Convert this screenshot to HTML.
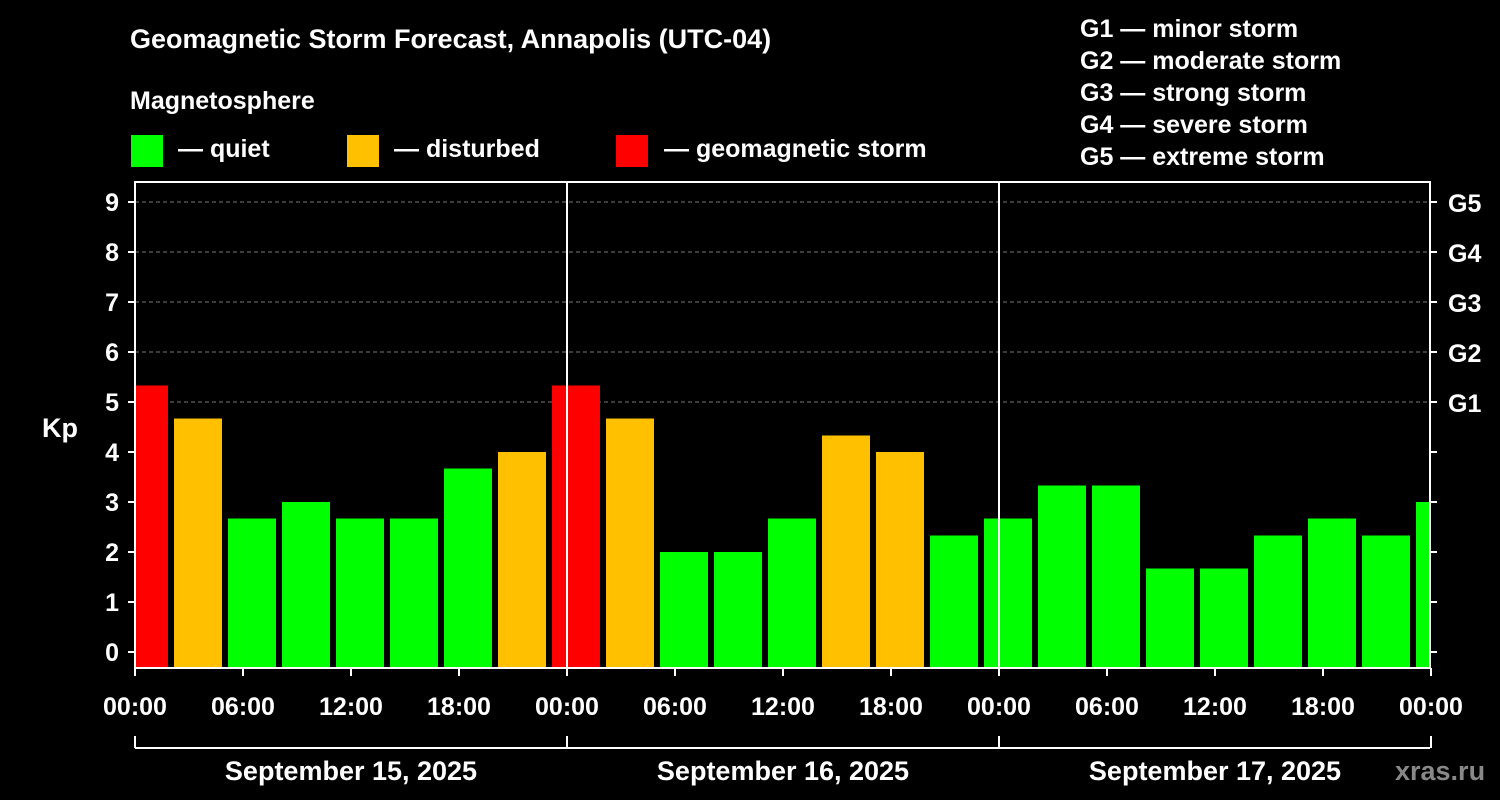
<!DOCTYPE html>
<html><head><meta charset="utf-8"><style>
body{margin:0;background:#000;}
svg{display:block;font-family:"Liberation Sans",Arial,sans-serif;font-weight:bold;}
</style></head><body>
<svg id="c" width="1500" height="800">
<rect width="1500" height="800" fill="#000"/>
<text x="130" y="48" fill="#fff" font-size="27">Geomagnetic Storm Forecast, Annapolis (UTC-04)</text>
<text x="130" y="109" fill="#fff" font-size="25">Magnetosphere</text>
<g><rect x="131" y="135" width="32" height="32" fill="#00ff00"/><text x="178" y="157" fill="#fff" font-size="25">— quiet</text></g>
<g><rect x="347" y="135" width="32" height="32" fill="#ffc000"/><text x="394" y="157" fill="#fff" font-size="25">— disturbed</text></g>
<g><rect x="616" y="135" width="32" height="32" fill="#ff0000"/><text x="664" y="157" fill="#fff" font-size="25">— geomagnetic storm</text></g>
<g fill="#fff" font-size="25">
<text x="1080" y="37">G1 — minor storm</text><text x="1080" y="69">G2 — moderate storm</text><text x="1080" y="101">G3 — strong storm</text><text x="1080" y="133">G4 — severe storm</text><text x="1080" y="165">G5 — extreme storm</text>
</g>
<text x="42" y="437" fill="#fff" font-size="27">Kp</text>
<text x="1395" y="780" fill="#888" font-size="27">xras.ru</text>
<g id="grid"></g><g id="bars"></g><g id="axes"></g>
</svg>
<script>
const values=[5.33,4.67,2.67,3,2.67,2.67,3.67,4,5.33,4.67,2,2,2.67,4.33,4,2.33,2.67,3.33,3.33,1.67,1.67,2.33,2.67,2.33,3];
const yTicks=[0,1,2,3,4,5,6,7,8,9];
const gLabels=["G1","G2","G3","G4","G5"];
const xTickLabels=["00:00","06:00","12:00","18:00","00:00","06:00","12:00","18:00","00:00","06:00","12:00","18:00","00:00"];
const dayLabels=["September 15, 2025","September 16, 2025","September 17, 2025"];
const NS="http://www.w3.org/2000/svg";
const L=135,R=1430,T=182,B=668;
const y=v=>652-50*v;
const xh=h=>L+h*18; // hours to px
function mk(p,tag,a){const e=document.createElementNS(NS,tag);for(const k in a)e.setAttribute(k,a[k]);p.appendChild(e);return e;}
const grid=document.getElementById('grid'),bars=document.getElementById('bars'),axes=document.getElementById('axes');
[5,6,7,8,9].forEach(v=>{const l=mk(grid,'line',{x1:L,x2:R,y1:y(v),y2:y(v),stroke:'#777','stroke-dasharray':'4,3'});

});
values.forEach((v,i)=>{let x0=xh(i*3-0.833),x1=x0+48;x0=Math.max(x0,L+1);x1=Math.min(x1,R);
const c=v>=5?'#ff0000':(v>=4?'#ffc000':'#00ff00');
const r=mk(bars,'rect',{x:x0,y:y(v),width:x1-x0,height:B-y(v),fill:c});

});
mk(axes,'rect',{x:L,y:T,width:R-L,height:B-T,fill:'none',stroke:'#fff','stroke-width':2});
[24,48].forEach(h=>mk(axes,'line',{x1:xh(h),x2:xh(h),y1:T,y2:B,stroke:'#fff','stroke-width':2}));
yTicks.forEach(v=>{mk(axes,'line',{x1:L-7,x2:L,y1:y(v),y2:y(v),stroke:'#fff','stroke-width':2});
mk(axes,'line',{x1:R,x2:R+7,y1:y(v),y2:y(v),stroke:'#fff','stroke-width':2});
const t=mk(axes,'text',{x:L-16,y:y(v)+9,fill:'#fff','font-size':25,'text-anchor':'end'});t.textContent=v;

});
gLabels.forEach((g,i)=>{const t=mk(axes,'text',{x:R+18,y:y(i+5)+10,fill:'#fff','font-size':25});t.textContent=g;

});
xTickLabels.forEach((s,i)=>{const x=xh(i*6);mk(axes,'line',{x1:x,x2:x,y1:B,y2:B+8,stroke:'#fff','stroke-width':2});
const t=mk(axes,'text',{x:x,y:715,fill:'#fff','font-size':25,'text-anchor':'middle'});t.textContent=s;

});
mk(axes,'line',{x1:L,x2:R,y1:748,y2:748,stroke:'#fff','stroke-width':2});
[0,24,48,72].forEach(h=>mk(axes,'line',{x1:xh(h),x2:xh(h),y1:736,y2:748,stroke:'#fff','stroke-width':2}));
dayLabels.forEach((d,i)=>{const t=mk(axes,'text',{x:xh(i*24+12),y:780,fill:'#fff','font-size':27,'text-anchor':'middle'});t.textContent=d;

});
</script>
</body></html>
